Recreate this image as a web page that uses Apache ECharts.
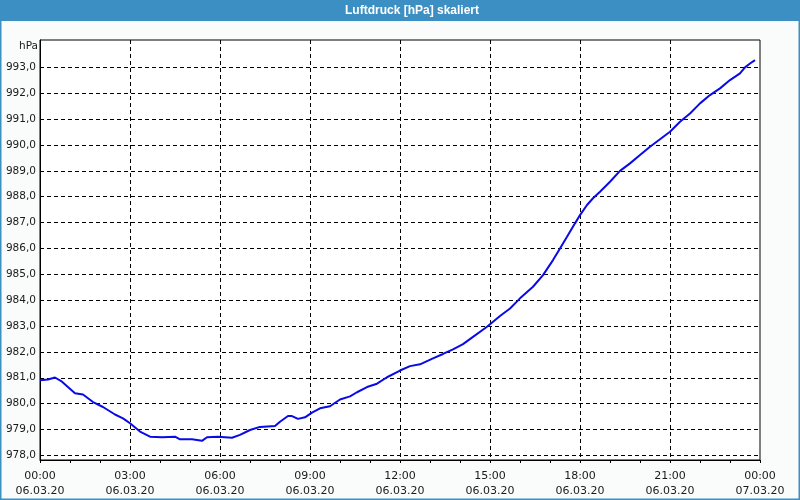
<!DOCTYPE html>
<html>
<head>
<meta charset="utf-8">
<script src="https://cdn.jsdelivr.net/npm/echarts@6/dist/echarts.min.js"></script>
<style>
html,body{margin:0;padding:0;background:#fafcfb;}
#chart{width:800px;height:500px;}
</style>
</head>
<body>
<div id="chart"></div>
<script>
// Minutes since 06.03.20 00:00
const minutes = [0,16,30,44,70,86,106,126,150,166,180,200,220,244,270,280,304,324,334,356,384,400,420,440,470,480,496,504,516,530,544,560,580,600,620,634,654,674,694,720,740,760,786,806,826,846,866,894,920,940,960,986,1006,1026,1040,1054,1070,1080,1094,1106,1120,1140,1160,1180,1200,1220,1240,1260,1280,1300,1320,1340,1360,1380,1400,1410,1420,1430];
// Air pressure in hPa
const pressure = [980.90,980.93,981.01,980.85,980.40,980.35,980.06,979.87,979.58,979.43,979.24,978.92,978.72,978.70,978.72,978.62,978.62,978.56,978.70,978.72,978.68,978.79,978.98,979.10,979.13,979.30,979.52,979.52,979.41,979.47,979.65,979.82,979.90,980.16,980.28,980.44,980.64,980.77,981.02,981.28,981.45,981.52,981.75,981.92,982.10,982.30,982.58,982.97,983.39,983.68,984.07,984.52,984.97,985.55,986.00,986.45,986.97,987.29,987.68,987.94,988.19,988.58,989.00,989.29,989.61,989.93,990.22,990.51,990.90,991.22,991.61,991.93,992.19,992.51,992.77,993.00,993.15,993.28];
const xTickTimes = ['00:00','03:00','06:00','09:00','12:00','15:00','18:00','21:00','00:00'];
const xTickDates = ['06.03.20','06.03.20','06.03.20','06.03.20','06.03.20','06.03.20','06.03.20','06.03.20','07.03.20'];
const yTicks = [978,979,980,981,982,983,984,985,986,987,988,989,990,991,992,993];
const titleText = 'Luftdruck [hPa] skaliert';
const unitText = 'hPa';

const chart = echarts.init(document.getElementById('chart'), null, {renderer:'canvas'});
const font = 'DejaVu Sans';
chart.setOption({
  backgroundColor: '#fafcfb',
  animation: false,
  grid: {left:40, right:40, top:40, bottom:40, show:true, backgroundColor:'#ffffff', borderColor:'#000', borderWidth:1},
  xAxis: {
    type:'value', min:0, max:1440, interval:180,
    axisLine:{show:true, lineStyle:{color:'#000', width:1}},
    axisTick:{show:true, length:3, lineStyle:{color:'#000'}},
    minorTick:{show:true, splitNumber:3, length:3, lineStyle:{color:'#000'}},
    splitLine:{show:true, showMinLine:false, showMaxLine:false, lineStyle:{color:'#000', type:[4,3], width:1}},
    axisLabel:{
      color:'#1a1a1a', fontFamily:font, fontSize:11, lineHeight:15, margin:9,
      formatter:function(v){ const i = Math.round(v/180); return xTickTimes[i] + '\n' + xTickDates[i]; }
    }
  },
  yAxis: {
    type:'value', min:977.82, max:994.06,
    axisLine:{show:true, lineStyle:{color:'#000'}},
    axisTick:{show:false, customValues:yTicks},
    splitLine:{show:true, lineStyle:{color:'#000', type:[4,3], width:1}},
    axisLabel:{
      customValues:yTicks, color:'#1a1a1a', fontFamily:font, fontSize:10.5, margin:4,
      formatter:function(v){ return v.toFixed(1).replace('.', ','); }
    }
  },
  graphic: [
    {type:'rect', shape:{x:0, y:0, width:800, height:21}, style:{fill:'#3c8fc3'}, z:10},
    {type:'text', x:412, y:11, style:{text:titleText, fill:'#ffffff', font:'bold 12px "Liberation Sans"', textAlign:'center', textVerticalAlign:'middle'}, z:11},
    {type:'rect', shape:{x:0.5, y:0, width:799, height:499.5}, style:{fill:null, stroke:'#3c8fc3', lineWidth:2}, z:10},
    {type:'text', x:38, y:46, style:{text:unitText, fill:'#1a1a1a', font:'10.5px "DejaVu Sans"', textAlign:'right', textVerticalAlign:'middle'}, z:11}
  ],
  series: [{
    type:'line', showSymbol:false, smooth:false,
    data: minutes.map((m,i)=>[m, pressure[i]]),
    lineStyle:{color:'#0a0ae6', width:2},
    itemStyle:{color:'#0a0ae6'}
  }]
});
</script>
</body>
</html>
